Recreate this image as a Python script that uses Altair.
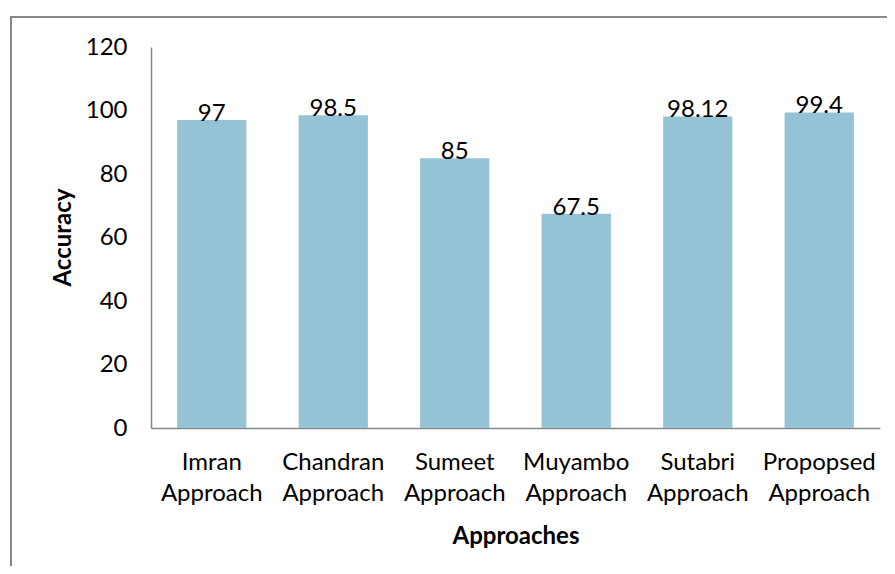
import altair as alt
import pandas as pd

approaches = ["Imran Approach", "Chandran Approach", "Sumeet Approach",
              "Muyambo Approach", "Sutabri Approach", "Propopsed Approach"]
accuracy = [97, 98.5, 85, 67.5, 98.12, 99.4]
labels = ["97", "98.5", "85", "67.5", "98.12", "99.4"]

df = pd.DataFrame({"approach": approaches, "accuracy": accuracy, "label": labels})

FONT = "Lato"
BAR = "#93C3D4"

x = alt.X("approach:N", sort=approaches, title="Approaches",
          scale=alt.Scale(paddingInner=0.43, paddingOuter=0.215),
          axis=alt.Axis(labelAngle=0, labelExpr="split(datum.label, ' ')",
                        labelLineHeight=31, labelPadding=22, ticks=False,
                        labelFontSize=24, labelFont=FONT, labelColor="#000",
                        domainColor="#888", domainWidth=1.5,
                        titleFont=FONT, titleFontSize=24, titleFontWeight="bold",
                        titlePadding=19, titleColor="#000"))
y = alt.Y("accuracy:Q", title="Accuracy",
          scale=alt.Scale(domain=[0, 120]),
          axis=alt.Axis(values=[0, 20, 40, 60, 80, 100, 120], grid=False, ticks=False,
                        labelPadding=24, labelFontSize=24, labelFont=FONT, labelColor="#000",
                        domainColor="#888", domainWidth=1.5,
                        titleFont=FONT, titleFontSize=24, titleFontWeight="bold",
                        titleColor="#000", titleX=-88, titleY=190,
                        titleAlign="center", titleBaseline="middle", titleAngle=-90))

bars = alt.Chart(df).mark_bar(color=BAR).encode(x=x, y=y)
text = alt.Chart(df).mark_text(font=FONT, fontSize=24, color="#000",
                               baseline="alphabetic", dy=1).encode(
    x=alt.X("approach:N", sort=approaches),
    y="accuracy:Q", text="label:N")

frame = alt.Chart(df).mark_rect(fill=None, stroke="#888", strokeWidth=1.5,
                                clip=False).encode(
    x=alt.value(-140), x2=alt.value(760), y=alt.value(-30), y2=alt.value(560))

chart = alt.layer(frame, bars, text).properties(
    width=729, height=381,
    autosize=alt.AutoSizeParams(type="none"),
    padding={"left": 143, "top": 39, "right": 7, "bottom": 138},
).configure(background="white").configure_view(stroke=None)

chart.save("out.html", embed_options={"renderer": "svg", "actions": False})
